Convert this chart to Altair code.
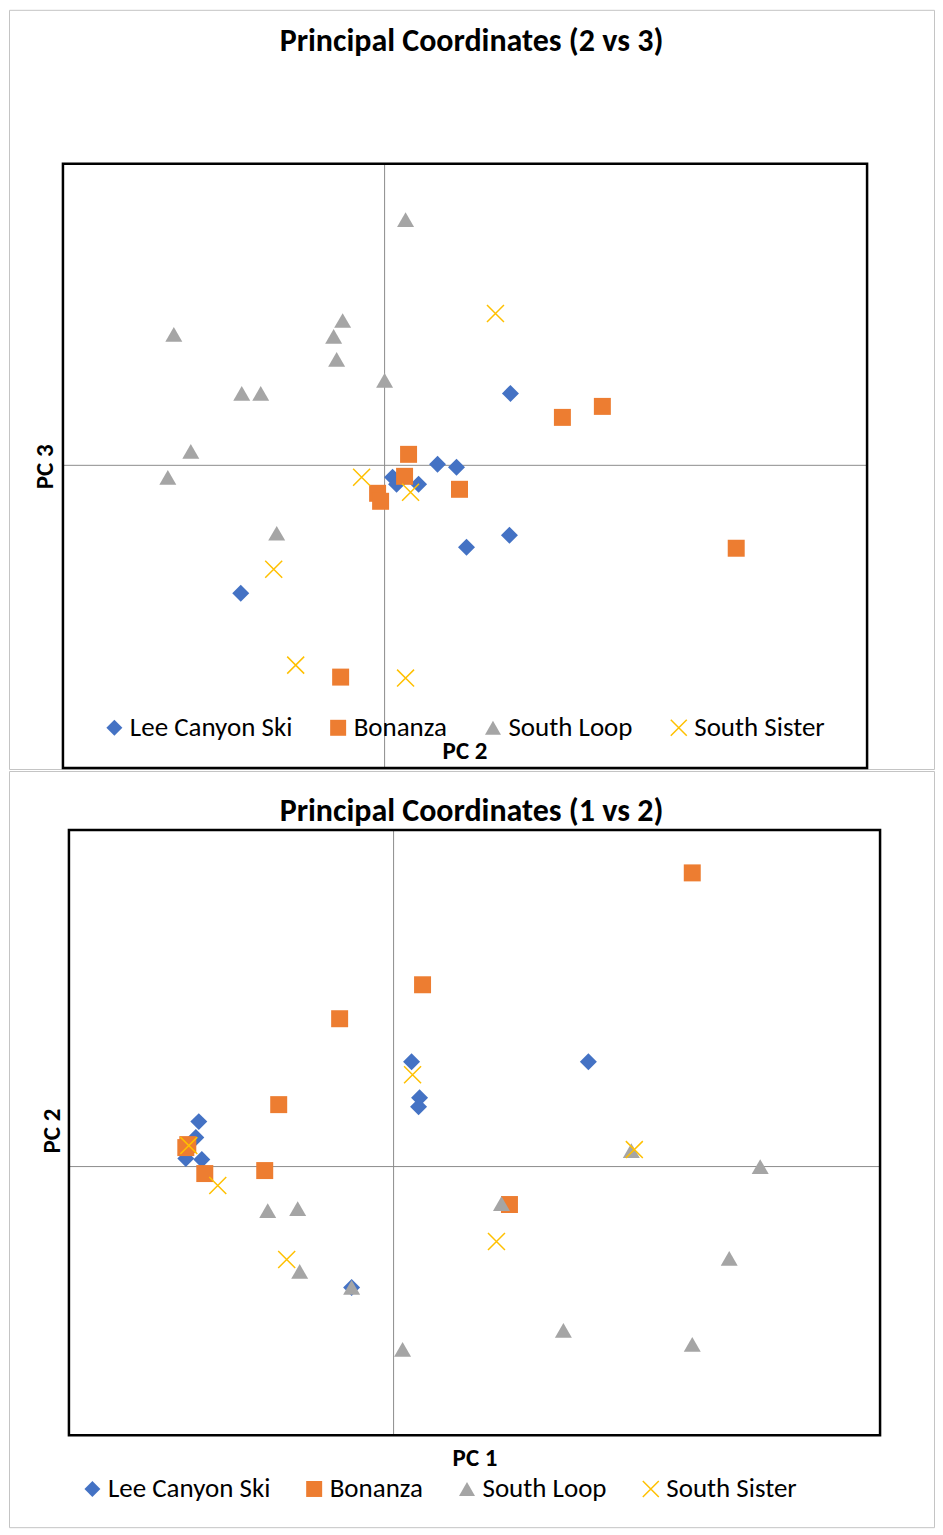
import altair as alt
import pandas as pd

FONT = "Carlito, Lato"
SERIES = ["Lee Canyon Ski", "Bonanza", "South Loop", "South Sister"]
FILLS = ["#4472C4", "#ED7D31", "#A5A5A5", "transparent"]
STROKES = ["transparent", "transparent", "transparent", "#FFC000"]
SHAPES = ["diamond", "square", "triangle-up", "M-1,-1L1,1M-1,1L1,-1"]

# ---- Chart 1: PC 2 (x) vs PC 3 (y) ----
LEE_PC2 = [1.26, 0.53, 0.72, 0.08, 0.12, 0.34, 0.82, 1.25, -1.44]
LEE_PC3 = [0.72, 0.01, -0.02, -0.12, -0.19, -0.19, -0.82, -0.70, -1.28]
BON_PC2 = [1.78, 2.18, 0.24, 0.20, -0.07, -0.04, 0.75, -0.44, 3.52]
BON_PC3 = [0.48, 0.59, 0.11, -0.11, -0.28, -0.36, -0.24, -2.12, -0.83]
SL_PC2 = [0.21, -2.11, -0.42, -0.51, -0.48, 0.00, -1.43, -1.24, -1.94, -2.17, -1.08]
SL_PC3 = [2.46, 1.31, 1.45, 1.29, 1.06, 0.85, 0.72, 0.72, 0.14, -0.12, -0.68]
SS_PC2 = [1.11, -0.23, 0.26, -1.11, -0.89, 0.21]
SS_PC3 = [1.52, -0.12, -0.27, -1.04, -2.00, -2.13]

# ---- Chart 2: PC 1 (x) vs PC 2 (y) ----
LEE_PC1 = [-1.95, -1.98, 0.18, 0.26, 0.25, 1.95, -2.08, -1.92, -0.42]
LEE_PC2B = [0.45, 0.29, 1.05, 0.69, 0.60, 1.05, 0.08, 0.07, -1.21]
BON_PC1 = [2.99, 0.29, -0.54, -1.15, -2.08, -2.06, -1.89, -1.29, 1.16]
BON_PC2B = [2.94, 1.82, 1.48, 0.62, 0.19, 0.22, -0.07, -0.04, -0.38]
SL_PC1 = [2.38, -1.26, -0.96, -0.94, -0.42, 0.09, 3.67, 1.08, 3.36, 1.70, 2.99]
SL_PC2B = [0.16, -0.44, -0.42, -1.05, -1.21, -1.83, 0.00, -0.37, -0.92, -1.64, -1.78]
SS_PC1 = [0.19, -2.05, 2.41, -1.76, -1.07, 1.03]
SS_PC2B = [0.92, 0.21, 0.17, -0.19, -0.93, -0.75]

X_DOMAIN_TOP = [-3.22, 4.83]
Y_DOMAIN_TOP = [-3.03, 3.02]
X_DOMAIN_BOT = [-3.25, 4.87]
Y_DOMAIN_BOT = [-2.69, 3.37]


def make_df(xs_list, ys_list):
    rows = []
    for name, xs, ys in zip(SERIES, xs_list, ys_list):
        for a, b in zip(xs, ys):
            rows.append({"series": name, "x": a, "y": b})
    return pd.DataFrame(rows)


def panel(df, xtitle, ytitle, xdom, ydom, title, VW, VH, plot, title_xy,
          xtitle_xy, ytitle_xy, legend_xy, col_pad):
    px0, px1, py0, py1 = plot  # plot area inside the panel (pixels)
    axis_common = dict(labels=False, ticks=False, domain=False, grid=False,
                       minExtent=0, maxExtent=0, titleBaseline="alphabetic",
                       titleAlign="center", titleFont=FONT, titleFontSize=25,
                       titleFontWeight="bold", titleColor="black")
    X = alt.X("x:Q", scale=alt.Scale(domain=xdom, range=[px0, px1], nice=False, zero=False),
              axis=alt.Axis(title=xtitle, titleX=xtitle_xy[0], titleY=xtitle_xy[1],
                            **axis_common))
    Y = alt.Y("y:Q", scale=alt.Scale(domain=ydom, range=[py1, py0], nice=False, zero=False),
              axis=alt.Axis(title=ytitle, titleX=ytitle_xy[0], titleY=ytitle_xy[1],
                            titleAngle=270, **axis_common))
    leg = alt.Legend(title=None, orient="none", legendX=legend_xy[0], legendY=legend_xy[1],
                     direction="horizontal", labelFont=FONT, labelFontSize=27,
                     labelColor="black", labelLimit=0, symbolSize=256,
                     symbolStrokeWidth=1.5, columnPadding=col_pad, labelOffset=2, padding=0)
    one = pd.DataFrame({"d": [0]})
    frame = alt.Chart(one).mark_rect(fill="transparent", stroke="black", strokeWidth=2.5).encode(
        x=alt.value(px0), x2=alt.value(px1), y=alt.value(py0), y2=alt.value(py1))
    vrule = alt.Chart(pd.DataFrame({"x": [0]})).mark_rule(color="#8c8c8c", strokeWidth=1).encode(
        x=X, y=alt.value(py0), y2=alt.value(py1))
    hrule = alt.Chart(pd.DataFrame({"y": [0]})).mark_rule(color="#8c8c8c", strokeWidth=1).encode(
        y=Y, x=alt.value(px0), x2=alt.value(px1))
    pts = alt.Chart(df).mark_point(size=289, opacity=1, strokeWidth=1.5).encode(
        x=X, y=Y,
        shape=alt.Shape("series:N", scale=alt.Scale(domain=SERIES, range=SHAPES), legend=leg),
        fill=alt.Fill("series:N", scale=alt.Scale(domain=SERIES, range=FILLS), legend=leg),
        stroke=alt.Stroke("series:N", scale=alt.Scale(domain=SERIES, range=STROKES), legend=leg),
    )
    ttl = alt.Chart(one).mark_text(font=FONT, fontSize=32, fontWeight="bold", color="black",
                                   align="center", baseline="alphabetic").encode(
        x=alt.value(title_xy[0]), y=alt.value(title_xy[1]), text=alt.value(title))
    return alt.layer(vrule, hrule, frame, pts, ttl).properties(width=VW, height=VH)


top_df = make_df([LEE_PC2, BON_PC2, SL_PC2, SS_PC2], [LEE_PC3, BON_PC3, SL_PC3, SS_PC3])
bot_df = make_df([LEE_PC1, BON_PC1, SL_PC1, SS_PC1], [LEE_PC2B, BON_PC2B, SL_PC2B, SS_PC2B])

top = panel(top_df, "PC 2", "PC 3", X_DOMAIN_TOP, Y_DOMAIN_TOP,
            "Principal Coordinates (2 vs 3)", 926, 760, (54, 859, 154, 759),
            (463, 41), (456, -11), (44, 457), (92, 705), 32)
bot = panel(bot_df, "PC 1", "PC 2", X_DOMAIN_BOT, Y_DOMAIN_BOT,
            "Principal Coordinates (1 vs 2)", 926, 757, (60, 872, 59, 665),
            (463, 50), (466, -62), (51, 360), (70, 705), 30)

chart = alt.ConcatChart(concat=[top, bot], columns=1, spacing=0, padding=0,
                        background="white").resolve_scale(
    x="independent", y="independent", shape="independent", fill="independent",
    stroke="independent").resolve_legend(shape="independent", fill="independent",
                                         stroke="independent").configure_view(
    stroke="#c4c4c4", strokeWidth=1)

chart.save("out.html", embed_options={"renderer": "svg", "actions": False})
